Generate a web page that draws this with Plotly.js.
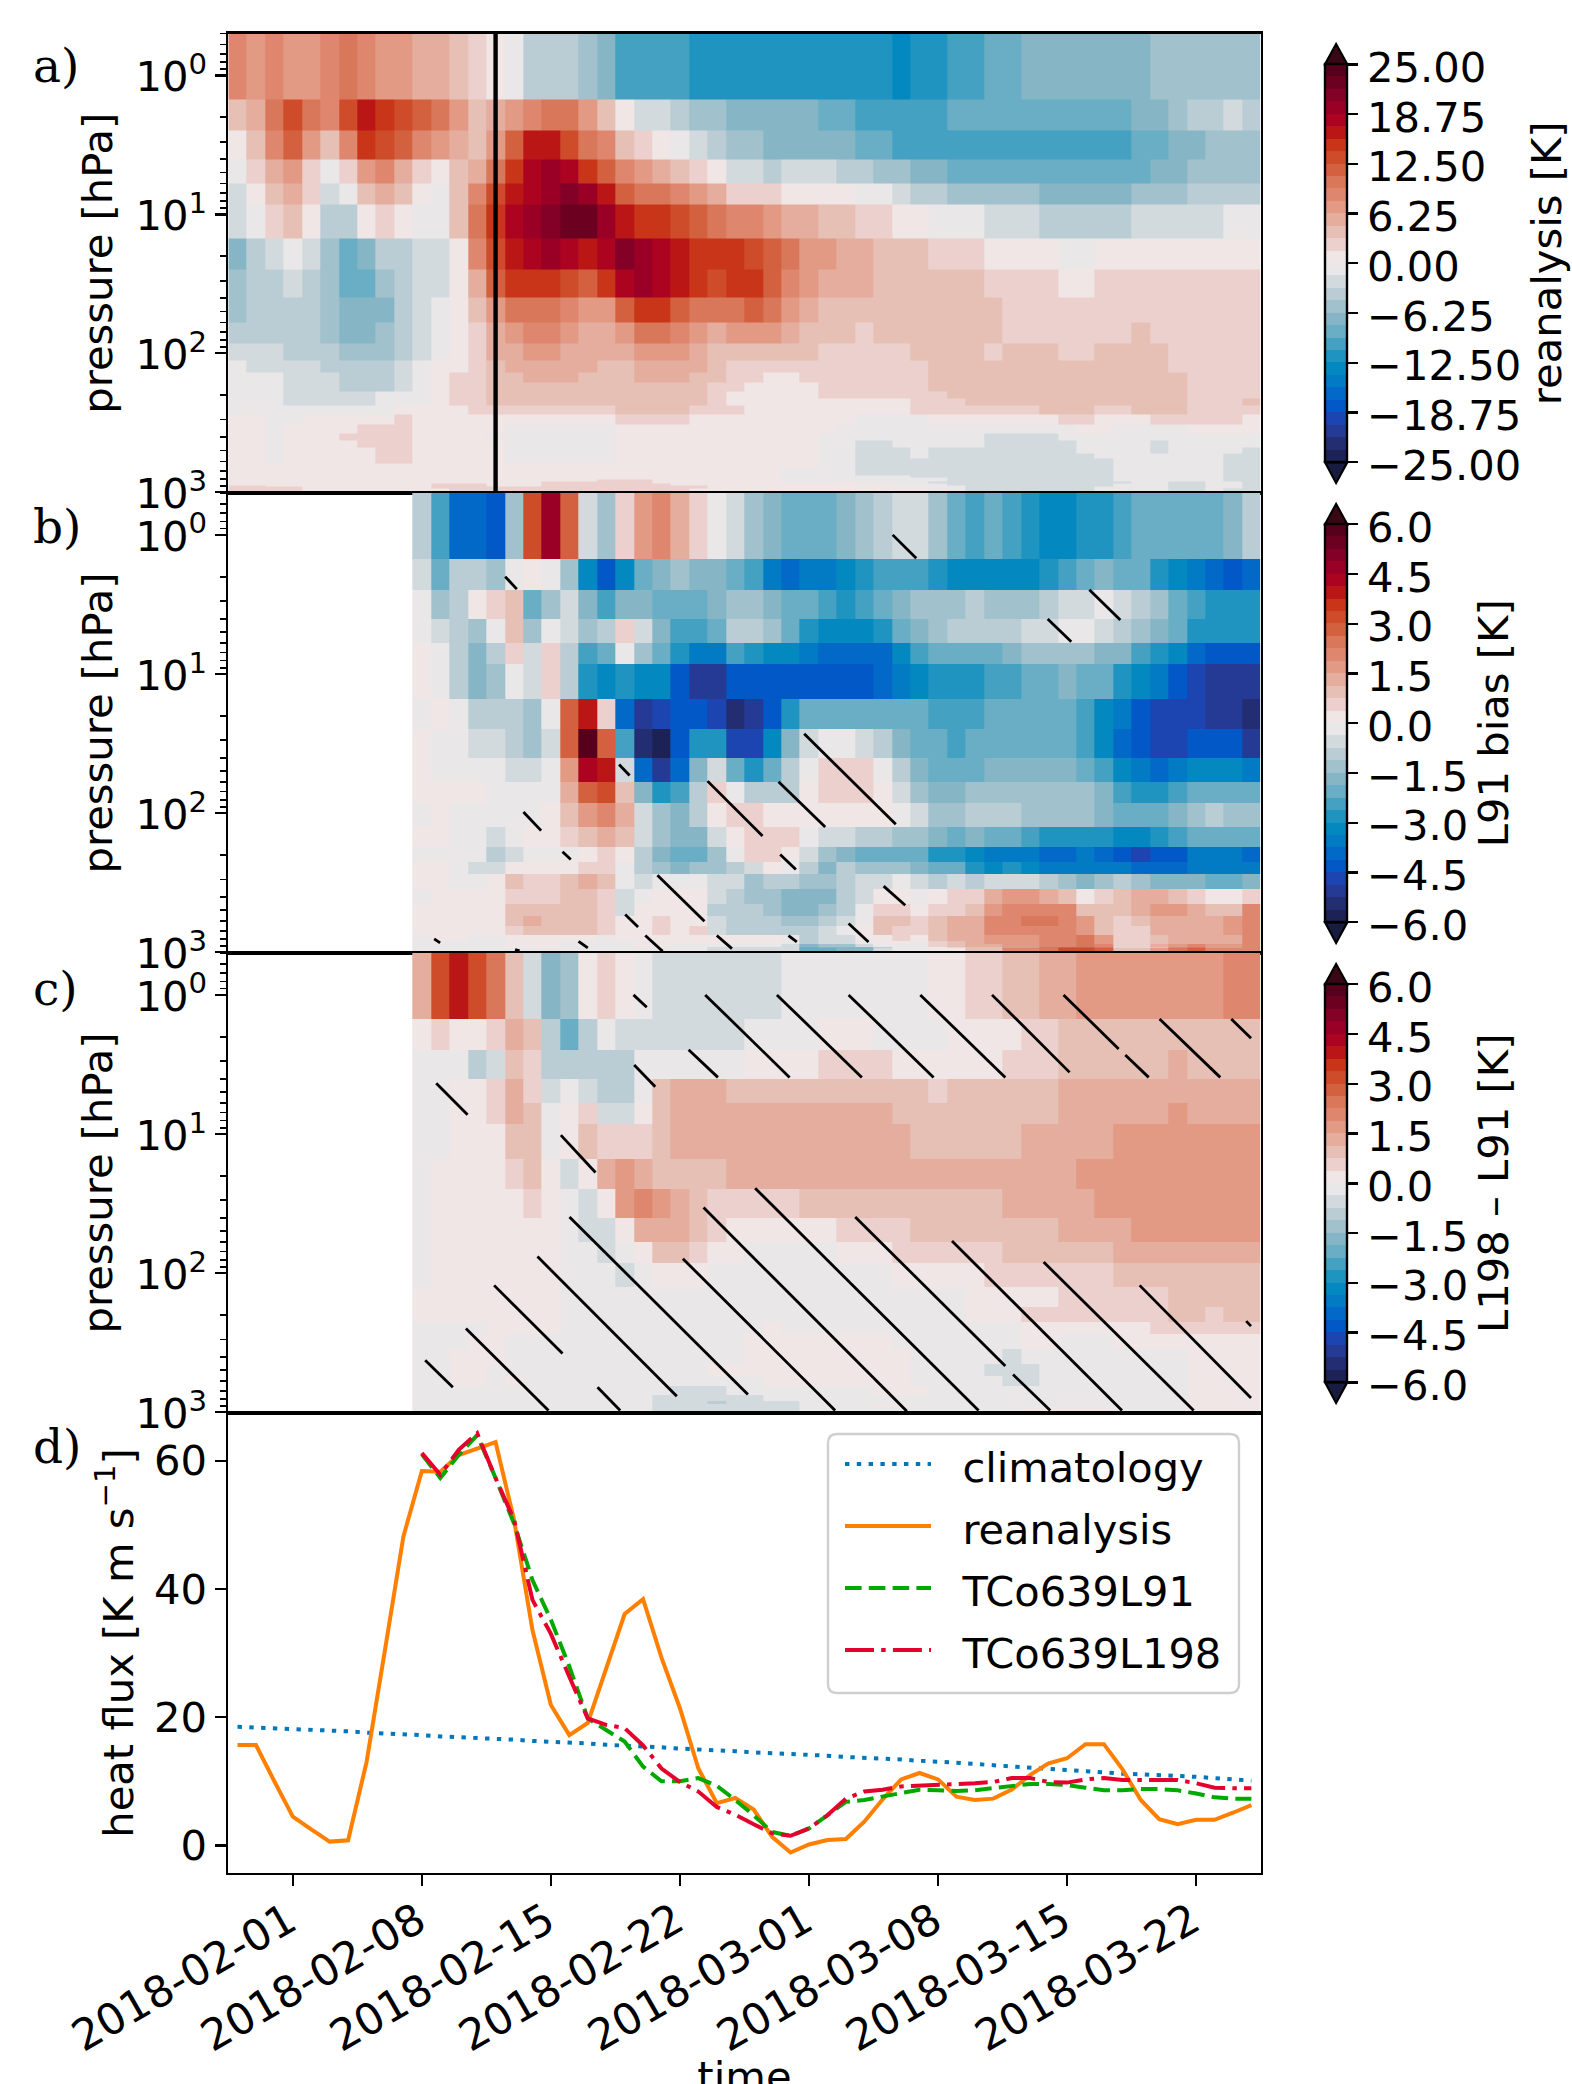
<!DOCTYPE html>
<html><head><meta charset="utf-8">
<script src="https://cdn.plot.ly/plotly-3.0.1.min.js"></script>
<style>html,body{margin:0;padding:0;background:#fff;overflow:hidden}#g{width:1572px;height:2084px}</style>
</head><body><div id="g"></div><script>
// colour bins, from the most negative bin to the most positive (32 bins)
const binColors=['#1C2255','#222D72','#253A95','#1C45B2','#0258C7','#0369C8','#027AC4','#0389C0','#2094C0','#44A1C2','#69AEC4','#86B6C5','#A1C1CC','#BACDD5','#D3DADE','#E9E7E8',
'#F0E6E6','#ECD0CD','#E6C0B4','#E4AD9E','#E39A85','#DE876E','#D87759','#D3603F','#CF4C2B','#C93518','#BB1616','#AC0420','#9A0026','#830026','#6C0020','#56001C'];
const pressureEdgesA=[0.5,1.5,2.5,4,6,8.5,15,25,40,60,85,112.5,137.5,162.5,187.5,212.5,237.5,275,325,375,425,475,525,575,625,675,725,762.5,787.5,812.5,837.5,862.5,887.5,912.5,937.5,962.5,987.5,1012.5];
const pressureEdgesBC=[0.5,1.5,2.5,4,6,8.5,15,25,40,60,85,125,175,225,275,350,450,550,650,750,825,875,912.5,937.5,975,1012.5];
// rows: [startDayIndex, bin, startDayIndex, bin, ...]; bin k means k-th colour bin above (+) or below (-) zero
const panelA=[
[0,6,1,5,2,6,3,5,5,6,6,7,7,6,8,5,10,4,12,3,13,2,14,1,15,-1,16,-3,19,-4,20,-5,21,-7,25,-8,36,-9,37,-8,39,-7,41,-6,43,-5,50,-4],
[0,3,1,4,2,7,3,9,4,7,5,6,6,9,7,11,8,10,9,9,10,8,11,7,12,5,13,3,14,4,15,5,16,6,17,7,19,5,20,3,21,1,22,-2,24,-3,25,-4,27,-5,32,-6,34,-7,39,-6,49,-5,51,-4,52,-3,54,-2,55,-3],
[0,1,1,3,2,6,3,8,4,5,5,3,6,6,7,10,8,9,9,8,10,6,11,5,12,4,13,3,14,5,15,8,16,11,18,9,19,7,20,6,21,3,22,2,23,1,24,-1,25,-2,26,-3,27,-4,29,-5,34,-6,36,-7,49,-6,51,-5,53,-4],
[0,-1,1,2,2,4,3,5,4,2,5,-1,6,2,7,5,8,6,9,4,10,2,11,1,12,3,13,4,14,7,15,10,16,12,17,13,18,12,19,10,20,8,21,6,22,5,23,4,24,3,25,2,26,1,27,-2,29,-3,30,-2,33,-3,35,-4,37,-5,39,-6,50,-5,52,-4],
[0,-2,1,1,2,3,3,4,4,2,5,-2,6,-1,7,3,8,4,9,3,10,1,11,-1,12,3,13,6,14,9,15,11,16,12,17,13,18,14,19,13,20,11,21,8,22,7,24,6,25,5,26,4,27,2,30,1,34,-1,36,-2,37,-3,39,-4,44,-5,49,-4,52,-3],
[0,-2,1,-1,2,2,3,3,4,1,5,-3,7,1,8,2,9,1,10,-1,12,3,13,7,14,10,15,12,16,13,17,14,18,15,20,13,21,11,22,10,24,9,25,8,26,7,27,6,29,5,30,4,32,3,34,2,36,1,38,-1,41,-2,44,-3,49,-2,54,-1],
[0,-5,1,-3,2,-2,3,-1,4,-2,5,-4,6,-6,7,-5,8,-3,10,-2,12,1,13,6,14,9,15,11,16,12,17,13,18,12,19,11,20,12,21,14,22,13,23,12,24,11,25,10,28,9,29,8,30,7,31,5,33,4,35,3,38,2,41,1,45,-1,47,1],
[0,-4,1,-3,3,-2,4,-3,5,-4,6,-6,8,-4,9,-3,10,-2,12,1,13,4,14,8,15,10,18,9,19,8,20,10,21,12,22,13,23,12,24,11,25,10,26,9,27,10,29,8,30,6,31,5,32,4,35,3,41,2,45,1,47,2],
[0,-4,1,-3,5,-4,6,-5,9,-3,10,-2,11,-1,12,1,13,3,14,5,15,7,18,6,19,5,21,8,22,10,24,8,25,7,28,8,29,7,30,5,31,4,32,3,42,2],
[0,-3,5,-4,6,-5,8,-4,9,-3,10,-2,11,-1,12,1,13,2,14,4,15,5,16,6,18,5,19,4,21,5,22,7,24,6,25,5,26,4,27,5,30,4,31,3,34,2,35,3,42,2,49,3,50,2],
[0,-2,3,-3,6,-4,9,-3,10,-2,11,-1,12,1,13,2,14,4,16,5,18,4,22,5,25,4,26,3,32,2,37,3,41,2,42,3,45,2,47,3,51,2],
[0,-1,1,-2,5,-3,9,-2,10,-1,11,1,13,2,14,3,15,4,20,3,22,4,26,3,27,2,38,3,51,2],
[0,-1,3,-2,6,-3,9,-2,10,-1,11,1,12,2,14,3,16,4,19,3,22,4,25,3,27,2,29,1,31,2,38,3,52,2],
[0,-1,3,-2,6,-3,9,-2,10,-1,11,1,12,2,14,3,26,2,28,1,32,2,38,3,52,2],
[0,-1,3,-2,8,-1,11,1,12,2,14,3,26,2,27,1,32,2,39,3,52,2],
[0,-1,3,-2,8,-1,11,1,12,2,14,3,26,2,27,1,37,2,40,3,52,2,55,3],
[0,-1,9,1,13,2,21,3,25,2,28,1,37,2,44,3,47,2,49,3,52,2],
[0,1,2,-1,4,1,9,2,10,1,21,2,25,1,34,-1,38,1,45,2,47,1,50,2,55,1],
[0,1,2,-1,3,1,7,2,10,1,15,-1,21,1,33,-1,46,1,48,-1,52,1],
[0,1,2,-1,3,1,6,2,10,1,14,-1,21,1,32,-1,41,-2,45,-1],
[0,1,2,-1,3,1,7,2,10,1,15,-1,21,1,32,-1,34,-2,36,-1,41,-2,46,-1,50,-2,51,-1],
[0,1,2,-1,3,1,8,2,10,1,15,-1,21,1,32,-1,34,-2,37,-1,38,-2,46,-1,50,-2,51,-1,55,-2],
[0,1,2,-1,3,1,8,2,10,1,15,-1,21,1,32,-1,34,-2,37,-1,38,-2,47,-1,54,-2],
[0,1,2,-1,3,1,8,2,10,1,15,-1,21,1,32,-1,34,-2,48,-1,54,-2],
[0,1,32,-1,34,-2,48,-1,54,-2],
[0,1,30,-1,34,-2,48,-1,54,-2],
[0,1,30,-1,34,-2,48,-1,54,-2],
[0,1,30,-1,37,-2,48,-1,54,-2],
[0,1,30,-1,39,-2,48,-1,54,-2],
[0,1,20,2,23,1,30,-1,39,-2,48,-1,54,-2],
[0,1,17,2,23,1,34,-1,38,-2,49,-1,51,-2,53,-1,55,-2],
[0,1,11,2,14,1,17,2,24,1,36,-1,39,-2,48,-1,51,-2,53,-1,55,-2],
[0,2,2,1,11,2,14,1,17,2,26,1,38,-1,40,-2,48,-1,51,-2,53,-1,55,-2],
[0,2,4,1,11,2,26,1,38,-1,40,-2,47,-1,51,-2,53,-1,55,-2],
[0,2,4,1,12,2,25,1,38,-1,40,-2,47,-1,51,-2,53,-1,54,-2],
[0,2,4,1,12,2,25,1,38,-1,40,-2,47,-1,51,-2,53,-1,54,-2],
[0,2,4,1,14,2,25,1,38,-1,40,-2,47,-1,51,-2,53,-1,54,-2]];
const panelB=[
[10,-3,11,-7,12,-11,14,-12,15,-4,16,9,17,13,18,8,19,-2,20,-4,21,2,22,5,23,6,24,4,25,2,26,-1,27,-2,28,-4,29,-5,30,-6,33,-5,34,-4,35,-3,36,-2,38,-4,39,-6,40,-7,41,-6,42,-7,43,-8,44,-9,46,-8,48,-7,49,-6,54,-5,55,-3],
[10,-2,11,-6,12,-3,14,-4,15,-1,16,1,17,-1,18,-4,19,-9,20,-12,21,-9,22,-6,23,-5,24,-4,25,-5,27,-6,28,-7,29,-10,30,-11,31,-10,33,-9,34,-8,35,-7,38,-8,39,-9,44,-8,45,-7,46,-6,47,-5,48,-6,50,-8,51,-9,52,-10,53,-11,54,-12,55,-11],
[10,-1,11,-4,12,-3,13,1,14,2,15,3,16,-6,17,-4,18,-2,19,-5,20,-7,21,-5,23,-6,26,-5,27,-4,29,-5,30,-6,32,-7,33,-8,34,-7,35,-6,36,-5,37,-4,40,-3,41,-4,44,-3,45,-2,47,-1,48,-2,49,-3,50,-4,51,-6,52,-7,53,-8],
[10,-1,11,-2,12,-3,13,-4,14,-1,15,3,16,-4,17,-1,18,-2,19,-4,20,-3,21,2,22,-2,23,-5,24,-7,26,-6,27,-3,29,-4,30,-6,31,-8,32,-9,35,-8,36,-6,37,-5,38,-4,39,-3,43,-2,45,-1,47,-2,48,-3,49,-4,50,-5,51,-6,52,-8],
[10,1,11,-1,12,-3,13,-5,14,-3,15,2,16,-2,17,2,18,-3,19,-7,20,-6,21,-1,22,-4,23,-6,24,-8,25,-10,27,-7,28,-8,29,-9,31,-10,32,-11,36,-9,37,-7,38,-6,42,-5,43,-4,47,-5,49,-7,50,-8,51,-9,52,-11,53,-12],
[10,1,11,-1,12,-3,13,-5,14,-4,15,-1,16,-2,17,2,18,-3,19,-8,20,-9,21,-8,22,-9,24,-12,25,-14,27,-12,35,-11,36,-10,37,-9,38,-8,41,-7,43,-6,45,-5,46,-6,48,-8,49,-9,50,-10,51,-12,52,-13,53,-14],
[10,-1,11,1,12,-1,13,-3,16,-4,17,-1,18,8,19,11,20,2,21,-11,22,-14,23,-13,24,-12,26,-13,27,-15,28,-14,29,-12,30,-8,31,-6,38,-7,41,-6,46,-7,47,-9,48,-10,49,-12,50,-13,53,-14,55,-15],
[10,1,11,-1,13,-2,15,-3,16,-4,17,-2,18,8,19,16,20,8,21,-7,22,-15,23,-16,24,-12,25,-8,27,-13,29,-9,30,-5,31,-2,32,-1,34,-2,35,-3,36,-5,37,-6,39,-7,40,-6,46,-7,47,-9,48,-11,49,-12,50,-13,52,-12,55,-14],
[10,1,11,-1,15,-2,17,-1,18,5,19,12,20,11,21,-2,22,-11,23,-14,24,-11,25,-5,26,-2,27,-6,28,-8,29,-6,30,-3,31,-1,32,2,35,-1,36,-3,37,-5,38,-6,41,-5,46,-6,47,-7,48,-9,49,-10,50,-11,51,-10,52,-9,55,-10],
[10,1,14,-1,18,4,19,8,20,9,21,3,22,-5,23,-8,24,-7,25,-3,26,2,27,-1,28,-3,31,1,32,2,35,1,36,-2,37,-4,38,-5,40,-4,47,-5,48,-7,49,-8,51,-7,52,-6],
[10,-1,11,1,12,-1,17,1,18,3,19,5,20,6,21,4,22,-2,23,-4,24,-5,25,-3,26,1,27,2,29,1,36,-1,37,-2,38,-4,40,-3,43,-4,47,-5,48,-6,51,-5,52,-4,53,-3,54,-4],
[10,1,12,-1,14,-2,15,-1,16,1,18,2,19,3,20,4,21,3,22,-2,23,-4,24,-5,26,-2,27,1,28,2,31,-1,32,-2,34,-3,36,-4,38,-5,39,-6,40,-5,41,-6,43,-7,44,-8,48,-9,50,-8,51,-7,52,-6],
[10,-1,14,-3,15,-2,16,-1,19,1,20,2,21,1,22,-3,23,-5,24,-6,26,-4,27,-1,28,2,30,1,31,-2,32,-4,33,-5,34,-6,38,-8,40,-9,41,-10,44,-11,46,-10,47,-11,48,-12,49,-13,50,-12,52,-10,55,-11],
[10,1,12,-1,13,-2,15,1,19,2,21,-1,22,-3,23,-4,24,-5,25,-4,27,-3,28,-2,29,1,30,-1,31,-3,32,-5,33,-3,34,-4,37,-5,38,-6,40,-8,41,-9,42,-8,43,-9,44,-10,49,-11,52,-10],
[10,1,12,-1,14,1,15,3,16,2,18,3,19,4,20,3,21,-1,22,-2,23,-1,26,-2,28,-4,29,-3,31,-4,33,-3,34,-2,36,-1,37,-2,38,-3,39,-2,40,-3,41,-2,44,-3,45,-4,46,-5,47,-4,48,-3,49,-4,50,-5,53,-6,55,-5],
[10,-1,11,1,15,2,18,3,20,2,21,-2,22,-1,23,1,26,-2,27,-3,28,-4,30,-5,33,-3,34,-2,35,1,37,-1,38,1,39,2,41,4,42,5,44,4,45,3,46,1,47,2,48,3,49,4,51,3,52,2,53,1,55,2],
[10,1,15,3,20,2,21,-2,22,1,26,-3,29,-4,30,-5,32,-4,33,-3,34,-1,35,2,37,1,38,2,40,3,41,5,42,6,46,3,49,4,50,5,52,4,53,3,55,6],
[10,1,15,3,16,4,17,3,20,2,21,1,23,2,24,1,26,-2,27,-3,30,-4,32,-3,33,-2,34,-1,35,3,37,2,38,3,39,4,41,6,43,7,45,6,46,5,47,3,48,2,49,3,50,4,54,5,55,6],
[10,1,15,2,16,3,20,2,21,1,23,2,24,1,25,2,26,-2,27,-3,32,-2,33,-1,34,1,35,3,36,2,38,3,39,4,41,6,46,5,47,3,48,2,50,4,54,5,55,6],
[10,-1,11,1,13,-1,15,1,20,-1,21,1,30,-1,31,-3,32,-2,34,1,36,2,37,1,38,3,39,4,41,5,44,6,46,7,47,5,48,2,50,3,51,4,55,6],
[10,-1,15,1,18,-1,22,1,30,-1,31,-3,32,-2,34,-1,35,1,37,-1,38,2,39,3,40,4,41,5,44,6,46,7,47,5,48,2,50,3,51,4,55,6],
[10,-1,15,1,18,-1,22,1,24,-1,30,-2,31,-5,32,-4,34,-2,35,-1,38,2,39,3,40,4,42,5,44,6,46,7,47,6,48,2,50,4,51,5,52,6,53,5,55,6],
[10,-1,15,1,18,-1,26,-2,31,-6,32,-5,35,-3,36,-1,38,1,39,2,40,3,42,5,44,7,45,8,47,7,48,2,50,3,51,6,52,7,53,5,55,6],
[10,-1,26,-2,31,-6,33,-5,35,-2,36,-1,38,1,40,3,42,6,44,7,45,9,47,8,48,3,50,5,51,7,52,8,53,6],
[10,-1,26,-2,31,-6,33,-5,35,-2,36,-1,38,1,40,3,42,6,44,8,45,9,47,8,48,3,50,5,51,7,52,8,53,6]];
const panelC=[
[10,4,11,9,12,11,13,9,14,7,15,3,16,-2,17,-5,18,-4,19,1,20,2,21,1,22,-1,23,-2,30,-1,38,1,40,2,42,3,44,4,46,5,54,6],
[10,1,11,2,12,1,14,2,15,4,16,3,17,-3,18,-6,19,-3,20,-1,21,-2,28,-1,32,1,35,-1,39,1,43,2,45,3],
[10,-1,13,-3,14,-2,15,3,16,2,17,-3,22,-1,28,1,32,2,36,1,42,2,45,3,51,4,52,3],
[10,-1,12,1,14,2,15,4,16,2,17,-2,18,-1,19,-2,20,-3,22,-1,23,3,24,4,27,3,38,2,39,3,45,4],
[10,-1,12,1,14,2,15,4,16,3,17,-1,18,1,19,2,20,-2,22,1,23,3,24,4,36,3,45,4,51,5,52,4],
[10,-1,12,1,15,3,17,-1,18,1,19,3,20,2,23,3,24,4,37,3,43,4,48,5],
[10,-1,11,1,15,2,16,3,17,1,18,-2,19,1,20,4,21,5,22,4,23,3,27,4,46,5],
[10,-1,11,1,16,2,17,1,18,-1,19,-2,20,1,21,5,22,6,23,5,24,4,25,3,26,2,31,3,42,4,47,5],
[10,-1,11,1,18,-1,19,-2,21,1,22,4,25,3,26,2,27,1,33,2,37,3,45,4,49,5],
[10,-1,11,1,18,-1,20,-2,21,-1,22,1,23,3,25,2,26,1,28,-1,33,1,36,2,42,3,48,4],
[10,-1,11,1,18,-1,21,-2,22,-1,23,1,26,-1,36,1,41,2,48,3],
[10,1,18,-1,40,1,45,2,51,3],
[10,1,18,-1,40,1,43,2,51,3,53,2,54,3],
[10,-1,14,1,18,-1,29,1,30,-1,43,1,50,2],
[10,-1,13,1,15,-1,28,1,36,-1,43,1,45,-1,48,1],
[10,-1,12,1,15,-1,28,1,37,-1,42,-2,43,-1,52,1],
[10,-1,12,1,14,-1,26,1,37,-1,41,-2,44,-1,52,1],
[10,-1,12,1,14,-1,15,1,16,-1,29,1,37,-1,42,-2,44,-1,52,1],
[10,-1,24,-2,27,-1,35,1,38,-1,52,1],
[10,-1,23,-2,29,-1,52,1],
[10,-1,23,-2,26,-3,27,-2,31,-1,52,1],
[10,-1,23,-2,31,-1,35,1,37,-1,52,1],
[10,-1,23,-2,31,-1,43,1,48,-1,52,1],
[10,-1,23,-2,31,-1,43,1,48,-1,52,1],
[10,-1,23,-2,31,-1,43,1,48,-1,52,1]];
// hatch strokes: [day from 2018-02-01, log10 hPa, day, log10 hPa]
const hatchB=[[11.52,0.30,12.15,0.39],[27.74,1.43,32.71,2.08],[17.70,1.65,18.27,1.73],[22.50,1.77,25.48,2.165],[26.35,1.774,28.88,2.10],[12.51,1.992,13.47,2.126],[14.63,2.278,15.08,2.333],[26.44,2.297,27.29,2.405],[19.78,2.446,22.33,2.777],[18.03,2.729,18.73,2.818],[19.12,2.88,20.06,2.993],[23.0,2.88,23.82,2.974],[26.89,2.88,27.34,2.926],[7.67,2.904,7.99,2.933],[15.50,2.921,16.0,2.969],[12.06,2.981,12.30,2.99],[30.15,2.794,31.23,2.926],[32.54,0,33.82,0.168],[40.95,0.605,42.23,0.768],[43.21,0.394,44.89,0.612],[32.05,2.525,33.22,2.662]];
const hatchC=[[18.48,0,19.20,0.089],[22.37,0,26.95,0.593],[26.26,0,30.87,0.593],[30.15,0,34.76,0.593],[21.47,0.394,23.06,0.593],[18.52,0.504,19.66,0.66],[7.78,0.636,9.48,0.862],[14.54,1.008,16.42,1.277],[25.08,1.39,37.20,2.988],[22.28,1.529,33.31,2.993],[15.01,1.596,24.69,2.873],[21.16,1.896,29.42,2.988],[13.27,1.881,20.83,2.885],[10.92,2.088,14.63,2.578],[9.39,2.398,13.87,2.988],[7.18,2.626,8.68,2.82],[16.53,2.82,17.76,2.988],[30.51,1.596,38.65,2.668],[39.07,2.729,41.09,2.988],[35.76,1.769,44.98,2.988],[40.73,1.92,48.87,2.988],[45.94,2.088,51.98,2.897],[51.72,2.345,51.98,2.381],[34.04,0,38.65,0.593],[37.93,0,42.14,0.557],[41.81,0,44.80,0.389],[45.16,0.432,46.43,0.593],[47.02,0.173,50.31,0.593],[50.91,0.173,51.98,0.312]];
// heat flux, daily from 2018-01-29 (climatology, reanalysis) and from 2018-02-08 (forecasts)
const climatology=[18.5,18.4,18.3,18.2,18.0,17.9,17.8,17.6,17.5,17.3,17.2,17.0,16.9,16.8,16.6,16.5,16.3,16.2,16.0,15.9,15.7,15.6,15.4,15.3,15.1,15.0,14.8,14.7,14.5,14.4,14.3,14.1,14.0,13.8,13.7,13.5,13.4,13.2,13.1,12.9,12.7,12.5,12.3,12.1,11.9,11.7,11.6,11.4,11.2,11.1,11.0,10.8,10.7,10.5,10.3,10.1];
const reanalysis=[15.65,15.65,10.0,4.5,2.5,0.6,0.8,13.0,30.5,48.2,58.4,58.3,60.9,61.9,62.9,50.8,33.6,21.9,17.2,19.1,27.6,36.1,38.4,29.3,21.4,12.0,6.6,7.4,5.6,1.35,-1.1,0.15,0.83,1.0,3.7,7.2,10.3,11.3,10.3,7.6,7.1,7.3,8.7,11.0,12.8,13.6,15.8,15.8,11.9,7.1,4.1,3.3,4.0,4.0,5.1,6.3];
const tco639L91=[61.0,57.3,60.9,64.0,57.3,50.2,41.4,35.2,27.9,19.8,18.0,16.2,12.3,10.0,10.0,10.5,9.3,7.1,4.7,2.1,1.5,2.65,4.7,6.8,7.1,7.6,8.2,8.7,8.6,8.5,8.6,8.9,9.3,9.6,9.6,9.4,9.0,8.6,8.6,8.8,8.8,8.6,8.1,7.5,7.3,7.3];
const tco639L198=[61.2,57.8,61.7,64.3,57.3,50.8,38.3,33,26.3,19.8,18.8,18.3,15.6,12.0,9.9,8.4,6.0,4.8,3.3,1.9,1.5,2.65,4.7,7.3,8.4,8.7,9.2,9.3,9.4,9.5,9.7,9.9,10.5,10.5,9.9,9.8,10.3,10.5,10.2,10.2,10.2,10.2,9.7,9.0,8.9,8.9];
const dateTicks=['2018-02-01','2018-02-08','2018-02-15','2018-02-22','2018-03-01','2018-03-08','2018-03-15','2018-03-22'];
const cbTicksA=[25,18.75,12.5,6.25,0,-6.25,-12.5,-18.75,-25];
const cbTextA=['25.00','18.75','12.50','6.25','0.00','\u22126.25','\u221212.50','\u221218.75','\u221225.00'];
const cbTicksBC=[6,4.5,3,1.5,0,-1.5,-3,-4.5,-6];
const cbTextBC=['6.0','4.5','3.0','1.5','0.0','\u22121.5','\u22123.0','\u22124.5','\u22126.0'];
const majorP=[1,10,100,1000];
const majorPText=['10<sup>0</sup>','10<sup>1</sup>','10<sup>2</sup>','10<sup>3</sup>'];
const minorP=[0.5,0.6,0.7,0.8,0.9,2,3,4,5,6,7,8,9,20,30,40,50,60,70,80,90,200,300,400,500,600,700,800,900];

const W=1572,H=2084,FONT='DejaVu Sans',FS=41.7;
const fx=p=>p/W, fy=p=>1-p/H;
const dayDate=d=>new Date(Date.UTC(2018,1,1)+d*864e5).toISOString().replace('Z','').replace('T',' ');
const xEdges=[];for(let i=0;i<=56;i++)xEdges.push(dayDate(i-3.5));
const days=[];for(let i=0;i<56;i++)days.push(dayDate(i-3));
const scale=[];binColors.forEach((c,i)=>{scale.push([i/32,c]);scale.push([(i+1)/32,c]);});
function expand(rows,zmax){const step=zmax/16;return rows.map(r=>{const out=new Array(56).fill(null);
  for(let i=0;i<r.length;i+=2){const end=i+2<r.length?r[i+2]:56,k=r[i+1];for(let c=r[i];c<end;c++)out[c]=(k>0?k-0.5:k+0.5)*step;}return out;});}
function hatch(segs,xa,ya){const x=[],y=[];segs.forEach(s=>{x.push(dayDate(s[0]),dayDate(s[2]),null);y.push(10**s[1],10**s[3],null);});
  return {type:'scatter',mode:'lines',x,y,xaxis:xa,yaxis:ya,showlegend:false,hoverinfo:'skip',line:{color:'#000',width:2.8}};}
function hm(rows,edges,zmax,xa,ya,cbTop,ticks,text,title){return {type:'heatmap',z:expand(rows,zmax),x:xEdges,y:edges,xaxis:xa,yaxis:ya,zmin:-zmax,zmax:zmax,zsmooth:false,colorscale:scale,showlegend:false,hoverongaps:false,
  colorbar:{x:fx(1325),xanchor:'left',xpad:0,y:fy(cbTop+199),yanchor:'middle',ypad:0,len:398,lenmode:'pixels',thickness:22,thicknessmode:'pixels',outlinecolor:'#000',outlinewidth:2.4,
  tickmode:'array',tickvals:ticks,ticktext:text,ticks:'outside',ticklen:10,tickwidth:2.4,tickcolor:'#000',tickfont:{family:FONT,size:FS,color:'#000'},title:{text:title,side:'right',font:{family:FONT,size:FS,color:'#000'}}}};}
const traces=[
 hm(panelA,pressureEdgesA,25,'x','y',64.3,cbTicksA,cbTextA,'reanalysis [K]'),
 hm(panelB,pressureEdgesBC,6,'x2','y2',524.3,cbTicksBC,cbTextBC,'L91 bias [K]'),
 hm(panelC,pressureEdgesBC,6,'x3','y3',984.3,cbTicksBC,cbTextBC,'L198 \u2013 L91 [K]'),
 {type:'scatter',mode:'lines',x:['2018-02-12','2018-02-12'],y:[0.5,1012.5],xaxis:'x',yaxis:'y',showlegend:false,hoverinfo:'skip',line:{color:'#000',width:4.4}},
 hatch(hatchB,'x2','y2'),hatch(hatchC,'x3','y3'),
 {type:'scatter',mode:'lines',name:'climatology',x:days,y:climatology,xaxis:'x4',yaxis:'y4',line:{color:'#0077BB',width:4,dash:'4.4px,7.4px'}},
 {type:'scatter',mode:'lines',name:'reanalysis',x:days,y:reanalysis,xaxis:'x4',yaxis:'y4',line:{color:'#FF7F00',width:4}},
 {type:'scatter',mode:'lines',name:'TCo639L91',x:days.slice(10),y:tco639L91,xaxis:'x4',yaxis:'y4',line:{color:'#00A800',width:4,dash:'16.6px,7.2px'}},
 {type:'scatter',mode:'lines',name:'TCo639L198',x:days.slice(10),y:tco639L198,xaxis:'x4',yaxis:'y4',line:{color:'#E6002D',width:4,dash:'29px,7.2px,4.5px,7.2px'}}
];
traces.slice(6).forEach(t=>{t.name='<span style="font-size:41.5px">\u00A0\u00A0'+t.name+'</span>';});
const xRange=[dayDate(-3.5),dayDate(52.5)];
const xDom=[fx(228.3),fx(1260.6)];
function xa(anchor,last){const o={domain:xDom,range:xRange,type:'date',anchor,showline:true,mirror:true,linecolor:'#000',linewidth:2.4,showgrid:false,zeroline:false,ticks:'',showticklabels:false};
 if(last){Object.assign(o,{tickmode:'array',tickvals:dateTicks,ticktext:dateTicks,ticks:'outside',ticklen:10.5,tickwidth:2.4,tickcolor:'#000',showticklabels:true,tickangle:-30,tickfont:{family:FONT,size:43,color:'#000'},automargin:true,title:{text:'time',standoff:16,font:{family:FONT,size:FS,color:'#000'}}});}
 return o;}
function ya(anchor,top,bottom){return {domain:[fy(bottom),fy(top)],type:'log',anchor,range:[Math.log10(1012.5),Math.log10(0.5)],showline:true,mirror:true,linecolor:'#000',linewidth:2.4,showgrid:false,zeroline:false,
 tickmode:'array',tickvals:majorP,ticktext:majorPText,ticks:'outside',ticklen:10.5,tickwidth:2.4,tickcolor:'#000',tickfont:{family:FONT,size:FS,color:'#000'},
 minor:{tickmode:'array',tickvals:minorP,ticks:'outside',ticklen:6,tickwidth:1.8,tickcolor:'#000',showgrid:false},
 automargin:true,title:{text:'pressure [hPa]',standoff:10,font:{family:FONT,size:FS,color:'#000'}}};}
function tri(top,base,color){const l=fx(1325),r=fx(1347.3),m=fx(1336.1);return {type:'path',xref:'paper',yref:'paper',path:`M${l},${fy(base)} L${m},${fy(top)} L${r},${fy(base)} Z`,fillcolor:color,line:{color:'#000',width:2.2},layer:'above'};}
const shapes=[];[0,460,920].forEach(o=>{shapes.push(tri(44+o,64.3+o,'#3A0814'));shapes.push(tri(483+o,462.3+o,'#171C40'));});
// rounded legend frame
(function(){const a=828,b=1239,t=1434,c=1693,r=9;
 const P=(x,y)=>`${fx(x)},${fy(y)}`;
 shapes.push({type:'path',xref:'paper',yref:'paper',layer:'above',fillcolor:'rgba(255,255,255,0.8)',line:{color:'#CFCFCF',width:2.4},
 path:`M${P(a+r,t)} L${P(b-r,t)} Q${P(b,t)} ${P(b,t+r)} L${P(b,c-r)} Q${P(b,c)} ${P(b-r,c)} L${P(a+r,c)} Q${P(a,c)} ${P(a,c-r)} L${P(a,t+r)} Q${P(a,t)} ${P(a+r,t)} Z`});})();
const panelLabels=[['a)',66],['b)',526],['c)',988],['d)',1446]];
const layout={width:W,height:H,margin:{l:0,r:0,t:0,b:0,autoexpand:false},paper_bgcolor:'#fff',plot_bgcolor:'#fff',font:{family:FONT,size:FS,color:'#000'},
 xaxis:xa('y'),xaxis2:xa('y2'),xaxis3:xa('y3'),xaxis4:xa('y4',true),
 yaxis:ya('x',33.5,493),yaxis2:ya('x2',493,953),yaxis3:ya('x3',953,1413),
 yaxis4:{domain:[fy(1873),fy(1413)],anchor:'x4',range:[-4.3,67.45],showline:true,mirror:true,linecolor:'#000',linewidth:2.4,showgrid:false,zeroline:false,tickmode:'array',tickvals:[0,20,40,60],ticktext:['0','20','40','60'],ticks:'outside',ticklen:10.5,tickwidth:2.4,tickcolor:'#000',tickfont:{family:FONT,size:FS,color:'#000'},automargin:true,title:{text:'heat flux [K m s<sup>\u22121</sup>]',standoff:8,font:{family:FONT,size:FS,color:'#000'}}},
 legend:{x:fx(840),xanchor:'left',y:fy(1428),yanchor:'top',bgcolor:'rgba(0,0,0,0)',borderwidth:0,itemwidth:86,font:{family:FONT,size:45.4,color:'#000'},traceorder:'normal'},
 shapes,
 annotations:panelLabels.map(p=>({xref:'paper',yref:'paper',x:fx(31),y:fy(p[1]),xanchor:'left',yanchor:'middle',showarrow:false,text:p[0],font:{family:'DejaVu Serif',size:47,color:'#000'}}))
};
Plotly.newPlot('g',traces,layout,{staticPlot:true,displayModeBar:false}).then(gd=>{
 // small label nudges: matplotlib centres the labels slightly lower than Plotly does
 const nudge=(sel,dx,dy)=>gd.querySelectorAll(sel).forEach(t=>t.setAttribute('transform',`translate(${dx},${dy}) `+(t.getAttribute('transform')||'')));
 nudge('.colorbar g[class*="tick"] text',1,3);
 nudge('.yaxislayer-above .ytick text,.yaxislayer-above .y2tick text,.yaxislayer-above .y3tick text',0,1.5);
 nudge('.xaxislayer-above .x4tick text',-4,-7);
 nudge('.x4title',0,17);
 gd.querySelectorAll('svg text').forEach(t=>{let b=null;try{b=t.getBBox();}catch(e){}
   if(!t.textContent.trim()||!b||b.width===0||b.height===0)t.remove();});
});
</script></body></html>
